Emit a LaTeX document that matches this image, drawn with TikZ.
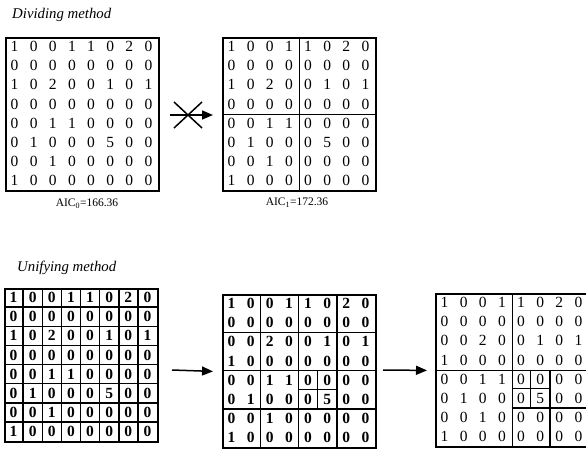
\documentclass[tikz,border=0pt]{standalone}
\usepackage{fontspec}
\setmainfont{Liberation Serif}
\usetikzlibrary{arrows.meta}
\newcommand\putdigits[5]{% #1 prefix, #2 x0, #3 y0, #4 style, #5 rows
  \foreach \rr [count=\ii] in {#5} {
    \foreach \dd [count=\jj] in \rr {
      \node[#4] (#1-\ii-\jj) at ({#2+(\jj-0.5)*19.125},{#3+(\ii-0.5)*19.125}) {\dd};
    }
  }
}
\begin{document}
\begin{tikzpicture}[x=1pt,y=-1pt,
  frame/.style={draw, line width=1.8pt, minimum width=153pt, minimum height=153pt, inner sep=0pt, anchor=north west},
  gridline/.style={line width=1.5pt},
  digit/.style={inner sep=0pt, font=\fontsize{15.5}{17}\selectfont},
  bdigit/.style={inner sep=0pt, font=\fontsize{15.5}{17}\selectfont\bfseries},
  title/.style={anchor=west, inner sep=0pt, font=\fontsize{14.8}{17}\selectfont\itshape},
  aic/.style={inner sep=0pt, font=\fontsize{11.5}{13}\selectfont},
  arr/.style={line width=1.5pt, -{Triangle[length=11pt,width=9pt]}},
  cross/.style={line width=1.5pt}]
\useasboundingbox (0,0) rectangle (586,456);
\clip (0,0) rectangle (586,456);

% titles
\node[title] (t1) at (12,15) {Dividing method};
\node[title] (t2) at (17,268) {Unifying method};

% ---------- Dividing method ----------
\node[frame] (A) at (5,37) {};
\putdigits{a}{5}{37}{digit}{{1,0,0,1,1,0,2,0},{0,0,0,0,0,0,0,0},{1,0,2,0,0,1,0,1},{0,0,0,0,0,0,0,0},{0,0,1,1,0,0,0,0},{0,1,0,0,0,5,0,0},{0,0,1,0,0,0,0,0},{1,0,0,0,0,0,0,0}}
\node[aic] (aic0) at (87,204) {AIC\textsubscript{0}=166.36};

\node[frame] (B) at (222,37) {};
\draw[gridline] (B.north) -- (B.south);
\draw[gridline] (B.west) -- (B.east);
\putdigits{b}{222}{37}{digit}{{1,0,0,1,1,0,2,0},{0,0,0,0,0,0,0,0},{1,0,2,0,0,1,0,1},{0,0,0,0,0,0,0,0},{0,0,1,1,0,0,0,0},{0,1,0,0,0,5,0,0},{0,0,1,0,0,0,0,0},{1,0,0,0,0,0,0,0}}
\node[aic] (aic1) at (297,203) {AIC\textsubscript{1}=172.36};

% crossed arrow
\coordinate (s1) at (170,115);
\coordinate (e1) at (213,115);
\draw[arr] (s1) -- (e1);
\coordinate (x1) at (174,102);
\coordinate (x2) at (202,128);
\coordinate (x3) at (202,102);
\coordinate (x4) at (174,128);
\draw[cross] (x1) -- (x2);
\draw[cross] (x3) -- (x4);

% ---------- Unifying method ----------
\node[frame] (C) at (4,288) {};
\foreach \k in {1,...,7} {
  \draw[gridline] ({4+\k*19.125},288) -- ({4+\k*19.125},441);
  \draw[gridline] (4,{288+\k*19.125}) -- (157,{288+\k*19.125});
}
\putdigits{c}{4}{288}{bdigit}{{1,0,0,1,1,0,2,0},{0,0,0,0,0,0,0,0},{1,0,2,0,0,1,0,1},{0,0,0,0,0,0,0,0},{0,0,1,1,0,0,0,0},{0,1,0,0,0,5,0,0},{0,0,1,0,0,0,0,0},{1,0,0,0,0,0,0,0}}

\node[frame] (D) at (222,294) {};
\foreach \k in {2,4,6} {
  \draw[gridline] ({222+\k*19.125},294) -- ({222+\k*19.125},447);
  \draw[gridline] (222,{294+\k*19.125}) -- (375,{294+\k*19.125});
}
\draw[gridline] ({222+5*19.125},{294+4*19.125}) -- ({222+5*19.125},{294+6*19.125});
\draw[gridline] ({222+4*19.125},{294+5*19.125}) -- ({222+6*19.125},{294+5*19.125});
\putdigits{d}{222}{294}{bdigit}{{1,0,0,1,1,0,2,0},{0,0,0,0,0,0,0,0},{0,0,2,0,0,1,0,1},{1,0,0,0,0,0,0,0},{0,0,1,1,0,0,0,0},{0,1,0,0,0,5,0,0},{0,0,1,0,0,0,0,0},{1,0,0,0,0,0,0,0}}

\node[frame] (E) at (435,293) {};
\draw[gridline] (E.north) -- (E.south);
\draw[gridline] (E.west) -- (E.east);
\draw[gridline] ({435+6*19.125},{293+4*19.125}) -- ({435+6*19.125},446);
\draw[gridline] ({435+4*19.125},{293+6*19.125}) -- (588,{293+6*19.125});
\draw[gridline] ({435+5*19.125},{293+4*19.125}) -- ({435+5*19.125},{293+6*19.125});
\draw[gridline] ({435+4*19.125},{293+5*19.125}) -- ({435+6*19.125},{293+5*19.125});
\putdigits{e}{435}{293}{digit}{{1,0,0,1,1,0,2,0},{0,0,0,0,0,0,0,0},{0,0,2,0,0,1,0,1},{1,0,0,0,0,0,0,0},{0,0,1,1,0,0,0,0},{0,1,0,0,0,5,0,0},{0,0,1,0,0,0,0,0},{1,0,0,0,0,0,0,0}}

% arrows
\coordinate (s2) at (172,370);
\draw[arr] (s2) -- ([xshift=-9pt]D.west);
\coordinate (s3) at (383,370);
\draw[arr] (s3) -- ([xshift=-8pt]E.west);
\end{tikzpicture}
\end{document}
